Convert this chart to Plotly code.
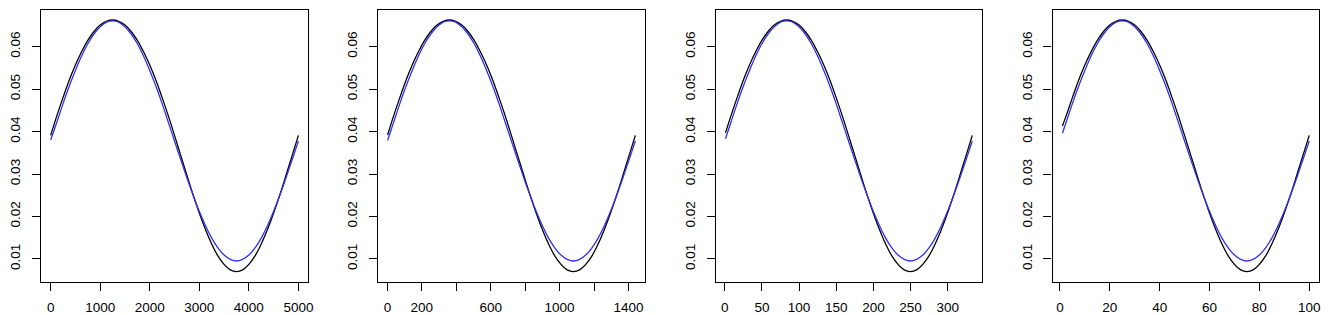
import plotly.graph_objects as go

# Phase grid (fraction of the series length) at which values were read
phase = [0.025 * k for k in range(1, 41)]

# Series length (last x) of each panel
n_points = [5000, 1440, 333, 100]

# Values at x = 1 (first point) for each panel
start_black = [0.0391, 0.0392, 0.0397, 0.0413]
start_blue = [0.0380, 0.0379, 0.0383, 0.0396]

# Curve values read at the phase grid
black_vals = [0.0437, 0.0480, 0.0521, 0.0557, 0.0588, 0.0615, 0.0636, 0.0651, 0.0660, 0.0663,
              0.0660, 0.0651, 0.0636, 0.0615, 0.0588, 0.0557, 0.0521, 0.0480, 0.0437, 0.0391,
              0.0344, 0.0297, 0.0251, 0.0208, 0.0169, 0.0135, 0.0107, 0.0087, 0.0074, 0.0070,
              0.0074, 0.0087, 0.0107, 0.0135, 0.0169, 0.0208, 0.0251, 0.0297, 0.0344, 0.0391]
blue_vals = [0.0422, 0.0466, 0.0507, 0.0544, 0.0578, 0.0607, 0.0630, 0.0647, 0.0658, 0.0661,
             0.0658, 0.0647, 0.0630, 0.0607, 0.0578, 0.0544, 0.0507, 0.0466, 0.0422, 0.0378,
             0.0334, 0.0291, 0.0250, 0.0212, 0.0178, 0.0149, 0.0126, 0.0109, 0.0099, 0.0095,
             0.0099, 0.0109, 0.0126, 0.0149, 0.0178, 0.0212, 0.0250, 0.0291, 0.0334, 0.0378]

# Tick positions and labels
x_tickvals = [
    [0, 1000, 2000, 3000, 4000, 5000],
    [0, 200, 400, 600, 800, 1000, 1200, 1400],
    [0, 50, 100, 150, 200, 250, 300],
    [0, 20, 40, 60, 80, 100],
]
x_ticktext = [
    ["0", "1000", "2000", "3000", "4000", "5000"],
    ["0", "200", "", "600", "", "1000", "", "1400"],
    ["0", "50", "100", "150", "200", "250", "300"],
    ["0", "20", "40", "60", "80", "100"],
]
y_tickvals = [0.01, 0.02, 0.03, 0.04, 0.05, 0.06]
y_ticktext = ["0.01", "0.02", "0.03", "0.04", "0.05", "0.06"]

# page is rendered with an 8px body margin
OFF = 8
W, H = 1336 - OFF, 315 - OFF
box_left = [34, 374, 715, 1055]
box_right = [304, 644, 984, 1324]
box_top, box_bottom = 10, 282

FONT = dict(family="Liberation Sans, Arial, Helvetica, sans-serif", size=13.5, color="black")

fig = go.Figure()
for i, n in enumerate(n_points):
    xs = [1] + [p * n for p in phase]
    yb = [start_black[i]] + black_vals
    yu = [start_blue[i]] + blue_vals
    xa = "x" if i == 0 else f"x{i+1}"
    ya = "y" if i == 0 else f"y{i+1}"
    fig.add_trace(go.Scatter(x=xs, y=yb, mode="lines", line=dict(color="black", width=1.3, shape="spline"),
                             xaxis=xa, yaxis=ya, showlegend=False))
    fig.add_trace(go.Scatter(x=xs, y=yu, mode="lines", line=dict(color="#3030f0", width=1.3, shape="spline"),
                             xaxis=xa, yaxis=ya, showlegend=False))
    pad = 0.04 * (n - 1)
    xkey = "xaxis" if i == 0 else f"xaxis{i+1}"
    ykey = "yaxis" if i == 0 else f"yaxis{i+1}"
    fig.layout[xkey] = dict(
        domain=[(box_left[i] - OFF) / W, (box_right[i] - OFF) / W], anchor=ya,
        range=[1 - pad, n + pad], showgrid=False, zeroline=False,
        showline=True, mirror=True, linecolor="black", linewidth=1.2,
        ticks="outside", ticklen=8, tickwidth=1.2, tickcolor="black",
        tickvals=x_tickvals[i], ticktext=x_ticktext[i], tickfont=FONT,
        ticklabelstandoff=5,
    )
    fig.layout[ykey] = dict(
        domain=[(H + OFF - box_bottom) / H, (H + OFF - box_top) / H], anchor=xa,
        range=[0.00455, 0.06866], showgrid=False, zeroline=False,
        showline=True, mirror=True, linecolor="black", linewidth=1.2,
        ticks="outside", ticklen=8, tickwidth=1.2, tickcolor="black",
        tickvals=y_tickvals, ticktext=y_ticktext, tickfont=FONT, tickangle=-90,
        ticklabelstandoff=6,
    )

fig.update_layout(width=W, height=H, margin=dict(l=0, r=0, t=0, b=0),
                  plot_bgcolor="white", paper_bgcolor="white")
fig.write_html("out.html")
